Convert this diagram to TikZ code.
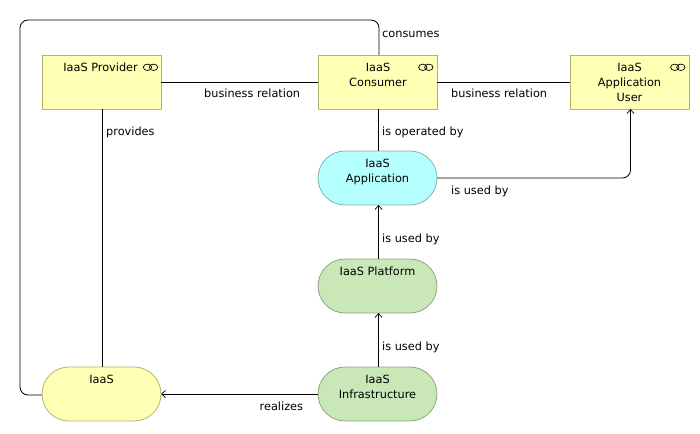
\documentclass[tikz,border=0pt]{standalone}
\usepackage{fontspec}
\setmainfont{DejaVu Sans}
\usetikzlibrary{arrows.meta}
\definecolor{yfill}{HTML}{FFFFB5}
\definecolor{ydraw}{HTML}{B5B56F}
\definecolor{cfill}{HTML}{B5FFFF}
\definecolor{cdraw}{HTML}{7FB3B3}
\definecolor{gfill}{HTML}{C9E7B7}
\definecolor{gdraw}{HTML}{8DA880}
\tikzset{
 x=1pt,y=-1pt,
 box/.style={draw,line width=0.8pt,minimum width=119pt,minimum height=54pt,inner sep=0pt,outer sep=0pt},
 actor/.style={box,fill=yfill,draw=ydraw},
 pill/.style={box,rounded corners=27pt},
 ypill/.style={pill,fill=yfill,draw=ydraw},
 cpill/.style={pill,fill=cfill,draw=cdraw},
 gpill/.style={pill,fill=gfill,draw=gdraw},
 nm/.style={font=\fontsize{11.3}{15}\selectfont,align=center,inner sep=0pt,anchor=north},
 lbl/.style={font=\fontsize{11.3}{15}\selectfont,inner sep=0pt,anchor=base west},
 conn/.style={draw=black,line width=0.8pt},
 arr/.style={conn,-{Straight Barb[length=4pt,width=7pt,line width=0.7pt]}},
 ico/.style={draw=black,line width=0.7pt,fill=none}
}
\begin{document}
\begin{tikzpicture}
\useasboundingbox (0,0) rectangle (700,433);
\node[actor] (prov) at (101.5,82) {};
\node[actor] (cons) at (377.5,82) {};
\node[actor] (user) at (629.5,82) {};
\node[cpill] (app) at (377.5,178) {};
\node[gpill] (plat) at (377.5,286) {};
\node[gpill] (infra) at (377.5,394) {};
\node[ypill] (iaas) at (101.5,394) {};
\coordinate (top1) at (379,20);
\coordinate (top2) at (20,20);
\coordinate (bot) at (20,395);
\coordinate (bend) at (630.5,178);
\draw[conn] (prov.east) -- (cons.west);
\draw[conn] (cons.east) -- (user.west);
\draw[conn] (cons.south -| 378.5,0) -- (app.north -| 378.5,0);
\draw[conn] (prov.south -| 102.5,0) -- (iaas.north -| 102.5,0);
\draw[conn,rounded corners=8pt] (cons.north -| 379,0) -- (top1) -- (top2) -- (bot) -- (iaas.west |- bot);
\draw[arr,rounded corners=8pt] (app.east) -- (bend) -- (user.south -| bend);
\draw[arr] (plat.north -| 378.5,0) -- (app.south -| 378.5,0);
\draw[arr] (infra.north -| 378.5,0) -- (plat.south -| 378.5,0);
\draw[arr] (infra.west) -- (iaas.east);
\node[nm,anchor=north east] (tprov) at (138,63.2) {IaaS Provider};
\node[nm] (tcons) at (378,63.2) {IaaS\\Consumer};
\node[nm] (tuser) at (629.5,63.2) {IaaS\\Application\\User};
\node[nm] (tapp) at (377.5,159.2) {IaaS\\Application};
\node[nm] (tplat) at (377.5,267.2) {IaaS Platform};
\node[nm] (tinfra) at (377.5,375.2) {IaaS\\Infrastructure};
\node[nm] (tiaas) at (101.5,375.2) {IaaS};
\node[lbl] (l1) at (204,98) {business relation};
\node[lbl] (l2) at (451,98) {business relation};
\node[lbl] (l3) at (106,135) {provides};
\node[lbl] (l4) at (382,38) {consumes};
\node[lbl] (l5) at (382,135) {is operated by};
\node[lbl] (l6) at (451,194) {is used by};
\node[lbl] (l7) at (382,242) {is used by};
\node[lbl] (l8) at (382,350) {is used by};
\node[lbl] (l9) at (259.5,410) {realizes};
\foreach \c in {147.5,422.8,674.8}{
 \draw[ico] (\c,67.3) ellipse (4.2pt and 3.2pt);
 \draw[ico] (\c+6,67.3) ellipse (4.2pt and 3.2pt);
}
\end{tikzpicture}
\end{document}
